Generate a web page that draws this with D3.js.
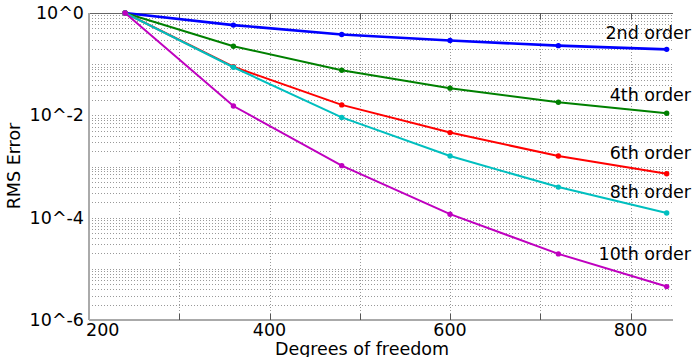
<!DOCTYPE html>
<html>
<head>
<meta charset="utf-8">
<script src="https://cdn.jsdelivr.net/npm/d3@7"></script>
<style>
  body { margin: 0; background: #fff; }
  text { font-family: "DejaVu Sans", sans-serif; fill: #000; }
</style>
</head>
<body>
<div id="chart"></div>
<script>
// degrees of freedom
var dof = [240, 360, 480, 600, 720, 840];

// RMS error per order
var order2 = [1, 0.58, 0.38, 0.29, 0.23, 0.195];
var order4 = [1, 0.224, 0.076, 0.034, 0.018, 0.011];
var order6 = [1, 0.089, 0.016, 0.0046, 0.0016, 0.00072];
var order8 = [1, 0.087, 0.0091, 0.0016, 0.000396, 0.000123];
var order10 = [1, 0.0152, 0.00104, 0.000117, 0.0000196, 0.0000045];

var seriesNames = ['2nd order', '4th order', '6th order', '8th order', '10th order'];
var xTickLabels = [200, 400, 600, 800];
var yTickLabels = ['10^0', '10^-2', '10^-4', '10^-6'];

var series = [order2, order4, order6, order8, order10];
var colors = ['#0000ff', '#008000', '#ff0000', '#00bfbf', '#bf00bf'];
var labelY = [33, 95, 153, 192, 254];

var width = 692, height = 357,
    margin = {top: 13, right: 19, bottom: 37, left: 89};
var w = width - margin.left - margin.right,
    h = height - margin.top - margin.bottom;
var fs = '17.5px';

var xScale = d3.scaleLinear().domain([200, 847]).range([0, w]),
    yScale = d3.scaleLog().domain([1e-6, 1]).range([h, 0]);

var svg = d3.select('#chart').append('svg')
    .attr('width', width)
    .attr('height', height);

var g = svg.append('g')
    .attr('transform', 'translate(' + margin.left + ',' + margin.top + ')');

// grid
var minorY = [];
for (var e = -6; e < 0; e++) {
  for (var m = 1; m < 10; m++) minorY.push(m * Math.pow(10, e));
}
g.append('g').selectAll('line').data(minorY).enter().append('line')
  .attr('x1', 0).attr('x2', w)
  .attr('y1', function(d) { return Math.round(yScale(d)) + 0.5; })
  .attr('y2', function(d) { return Math.round(yScale(d)) + 0.5; })
  .attr('stroke', '#999').attr('stroke-width', 1)
  .attr('stroke-dasharray', '1,2');

var xGrid = d3.range(300, 847, 100);
g.append('g').selectAll('line').data(xGrid).enter().append('line')
  .attr('x1', function(d) { return Math.round(xScale(d)) + 0.5; })
  .attr('x2', function(d) { return Math.round(xScale(d)) + 0.5; })
  .attr('y1', 0).attr('y2', h)
  .attr('stroke', '#999').attr('stroke-width', 1)
  .attr('stroke-dasharray', '1,2');

// frame
g.append('line').attr('x1', 0).attr('x2', w).attr('y1', 0.5).attr('y2', 0.5)
  .attr('stroke', '#666');
g.append('line').attr('x1', 0).attr('x2', w).attr('y1', h).attr('y2', h)
  .attr('stroke', '#aaa').attr('stroke-width', 2);
g.append('line').attr('x1', 0).attr('x2', 0).attr('y1', 0).attr('y2', h)
  .attr('stroke', '#aaa').attr('stroke-width', 2);

// x ticks
g.append('g').selectAll('line').data(xGrid).enter().append('line')
  .attr('x1', function(d) { return Math.round(xScale(d)) + 0.5; })
  .attr('x2', function(d) { return Math.round(xScale(d)) + 0.5; })
  .attr('y1', h).attr('y2', h - 6)
  .attr('stroke', '#555');
g.append('g').selectAll('line').data(xGrid).enter().append('line')
  .attr('x1', function(d) { return Math.round(xScale(d)) + 0.5; })
  .attr('x2', function(d) { return Math.round(xScale(d)) + 0.5; })
  .attr('y1', 0).attr('y2', 6)
  .attr('stroke', '#555');

g.append('g').selectAll('text').data(xTickLabels).enter().append('text')
  .attr('x', function(d, i) { return i === 0 ? xScale(d) - 3 : xScale(d); })
  .attr('y', h + 16)
  .attr('text-anchor', function(d, i) { return i === 0 ? 'start' : 'middle'; })
  .style('font-size', fs)
  .text(function(d) { return d; });

// y labels
var yTickVals = [1, 1e-2, 1e-4, 1e-6];
g.append('g').selectAll('text').data(yTickVals).enter().append('text')
  .attr('x', -5)
  .attr('y', function(d) { return yScale(d) + 6; })
  .attr('text-anchor', 'end')
  .style('font-size', fs)
  .text(function(d, i) { return yTickLabels[i]; });

// lines
var line = d3.line()
  .x(function(d, i) { return xScale(dof[i]); })
  .y(function(d) { return yScale(d); });

series.forEach(function(s, k) {
  g.append('path')
    .datum(s)
    .attr('fill', 'none')
    .attr('stroke', colors[k])
    .attr('stroke-width', k === 0 ? 2.6 : 2)
    .attr('d', line);
  g.append('g').selectAll('circle').data(s).enter().append('circle')
    .attr('cx', function(d, i) { return xScale(dof[i]); })
    .attr('cy', function(d) { return yScale(d); })
    .attr('r', 2.7)
    .attr('fill', colors[k]);
});

// series labels
svg.append('g').selectAll('text').data(seriesNames).enter().append('text')
  .attr('x', 691)
  .attr('y', function(d, i) { return labelY[i] + 6; })
  .attr('text-anchor', 'end')
  .style('font-size', fs)
  .text(function(d) { return d; });

// axis titles
svg.append('text')
  .attr('x', 362)
  .attr('y', 355)
  .attr('text-anchor', 'middle')
  .style('font-size', fs)
  .text('Degrees of freedom');

svg.append('text')
  .attr('transform', 'translate(20,166) rotate(-90)')
  .attr('text-anchor', 'middle')
  .style('font-size', fs)
  .text('RMS Error');
</script>
</body>
</html>
